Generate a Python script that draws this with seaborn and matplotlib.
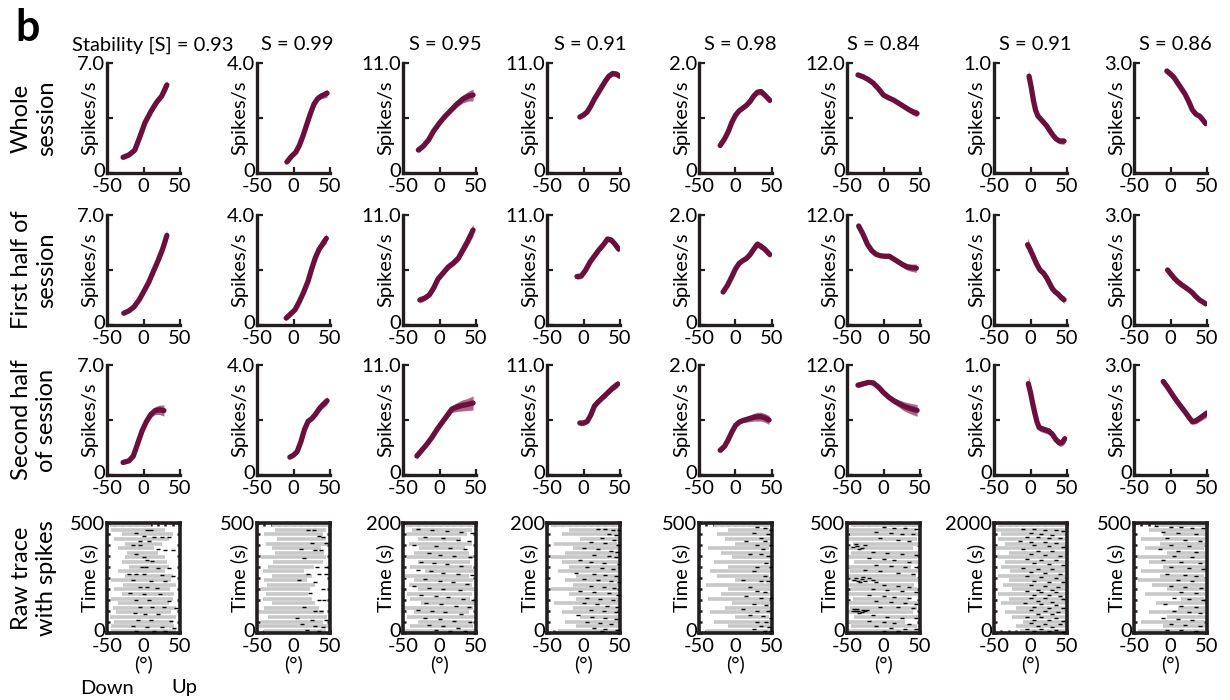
import numpy as np
import matplotlib
matplotlib.use("Agg")
import matplotlib.pyplot as plt
import matplotlib.transforms as mtransforms
import seaborn as sns
from matplotlib.ticker import MultipleLocator

sns.set_theme(style="ticks")
plt.rcParams['font.family'] = ['Lato', 'DejaVu Sans']
plt.rcParams['axes.unicode_minus'] = False

# ---------------- data ----------------
titles = ["Stability [S] = 0.93", "S = 0.99", "S = 0.95", "S = 0.91",
          "S = 0.98", "S = 0.84", "S = 0.91", "S = 0.86"]
row_labels = ["Whole\nsession", "First half of\nsession", "Second half\nof session", "Raw trace\nwith spikes"]
ymax = [7.0, 4.0, 11.0, 11.0, 2.0, 12.0, 1.0, 3.0]
tmax = [500, 500, 200, 200, 500, 500, 2000, 500]

# tuning curves: per column, [whole, first half, second half]
X1 = [[-28, -20, -12, -5, 2, 10, 18, 25, 32],
      [-27, -20, -13, -6, 0, 7, 13, 20, 26, 32],
      [-28, -20, -14, -8, -2, 4, 10, 16, 22, 28]]
Y1 = [[1.0, 1.15, 1.45, 2.3, 3.2, 3.9, 4.5, 4.9, 5.6],
      [0.75, 0.9, 1.15, 1.6, 2.1, 2.7, 3.35, 4.1, 4.8, 5.7],
      [0.8, 0.9, 1.2, 2.0, 2.8, 3.4, 3.85, 4.1, 4.15, 4.1]]
E1 = [[0.15, 0.12, 0.1, 0.1, 0.1, 0.1, 0.12, 0.15, 0.3],
      [0.12, 0.1, 0.1, 0.1, 0.1, 0.1, 0.12, 0.15, 0.2, 0.35],
      [0.12, 0.1, 0.1, 0.1, 0.12, 0.15, 0.2, 0.25, 0.3, 0.35]]

X2 = [[-9, -3, 3, 8, 13, 18, 23, 28, 33, 38, 46],
      [-10, -4, 2, 8, 14, 20, 25, 30, 35, 40, 45],
      [-5, 0, 5, 10, 15, 20, 25, 30, 35, 40, 46]]
Y2 = [[0.4, 0.6, 0.75, 1.0, 1.35, 1.75, 2.15, 2.5, 2.7, 2.8, 2.9],
      [0.25, 0.4, 0.55, 0.85, 1.2, 1.6, 2.05, 2.45, 2.75, 2.95, 3.15],
      [0.65, 0.72, 0.85, 1.2, 1.65, 1.95, 2.05, 2.2, 2.4, 2.55, 2.7]]
E2 = [[0.06, 0.05, 0.05, 0.05, 0.05, 0.05, 0.06, 0.07, 0.08, 0.1, 0.15],
      [0.06, 0.05, 0.05, 0.05, 0.05, 0.06, 0.07, 0.08, 0.1, 0.12, 0.18],
      [0.07, 0.06, 0.06, 0.06, 0.06, 0.06, 0.07, 0.08, 0.1, 0.12, 0.15]]

X3 = [[-29, -22, -15, -8, 0, 8, 16, 24, 32, 40, 46],
      [-27, -20, -14, -8, -2, 5, 12, 19, 26, 32, 38, 46],
      [-31, -24, -17, -10, -3, 4, 11, 17, 24, 31, 38, 46]]
Y3 = [[2.3, 2.7, 3.3, 4.2, 5.0, 5.7, 6.3, 6.9, 7.4, 7.7, 7.8],
      [2.5, 2.7, 3.0, 3.7, 4.6, 5.2, 5.8, 6.2, 6.7, 7.5, 8.3, 9.5],
      [1.9, 2.5, 3.1, 3.8, 4.6, 5.3, 6.0, 6.6, 6.8, 6.95, 7.05, 7.2]]
E3 = [[0.3, 0.25, 0.2, 0.2, 0.2, 0.2, 0.25, 0.3, 0.4, 0.5, 0.6],
      [0.3, 0.25, 0.2, 0.2, 0.2, 0.2, 0.25, 0.3, 0.35, 0.4, 0.5, 0.6],
      [0.3, 0.25, 0.2, 0.2, 0.2, 0.25, 0.3, 0.35, 0.45, 0.55, 0.6, 0.7]]

X4 = [[-5, 0, 5, 10, 15, 20, 25, 30, 35, 40, 45, 49],
      [-9, -3, 3, 9, 15, 21, 27, 33, 38, 43, 48],
      [-5, 0, 5, 10, 15, 20, 25, 30, 35, 40, 47]]
Y4 = [[5.6, 5.8, 6.1, 6.7, 7.4, 8.0, 8.6, 9.2, 9.7, 9.95, 9.9, 9.7],
      [4.85, 4.9, 5.5, 6.3, 6.9, 7.5, 8.0, 8.6, 8.5, 8.1, 7.6],
      [5.2, 5.2, 5.35, 6.0, 6.9, 7.3, 7.65, 8.0, 8.35, 8.7, 9.1]]
E4 = [[0.25, 0.2, 0.2, 0.2, 0.2, 0.2, 0.2, 0.2, 0.2, 0.25, 0.25, 0.3],
      [0.3, 0.25, 0.2, 0.2, 0.2, 0.2, 0.2, 0.25, 0.25, 0.3, 0.35],
      [0.3, 0.25, 0.2, 0.2, 0.2, 0.2, 0.2, 0.25, 0.25, 0.3, 0.35]]

X5 = [[-21, -15, -10, -5, 0, 5, 10, 15, 20, 25, 30, 35, 40, 47],
      [-17, -11, -5, 0, 5, 10, 15, 20, 25, 30, 35, 40, 47],
      [-21, -15, -10, -5, 0, 5, 10, 15, 20, 25, 30, 35, 40, 46]]
Y5 = [[0.5, 0.62, 0.75, 0.92, 1.05, 1.13, 1.18, 1.23, 1.3, 1.4, 1.47, 1.48, 1.42, 1.32],
      [0.6, 0.72, 0.88, 1.02, 1.12, 1.17, 1.21, 1.28, 1.38, 1.47, 1.43, 1.38, 1.28],
      [0.45, 0.52, 0.64, 0.78, 0.9, 0.96, 0.99, 1.01, 1.03, 1.05, 1.06, 1.06, 1.04, 1.0]]
E5 = [[0.04, 0.035, 0.03, 0.03, 0.03, 0.03, 0.03, 0.03, 0.035, 0.04, 0.05, 0.06, 0.05, 0.05],
      [0.05, 0.04, 0.035, 0.03, 0.03, 0.03, 0.035, 0.04, 0.05, 0.06, 0.06, 0.05, 0.05],
      [0.05, 0.04, 0.035, 0.03, 0.03, 0.035, 0.04, 0.05, 0.06, 0.07, 0.08, 0.08, 0.08, 0.08]]

X6 = [[-35, -28, -21, -14, -7, 0, 7, 14, 21, 28, 35, 41, 46],
      [-34, -28, -22, -16, -10, -4, 2, 8, 14, 20, 26, 32, 38, 45],
      [-35, -28, -21, -14, -7, 0, 7, 14, 21, 28, 35, 41, 46]]
Y6 = [[10.7, 10.5, 10.2, 9.8, 9.2, 8.5, 8.2, 7.95, 7.6, 7.25, 6.9, 6.65, 6.5],
      [10.8, 9.9, 8.8, 8.1, 7.7, 7.55, 7.5, 7.5, 7.2, 6.9, 6.6, 6.35, 6.25, 6.2],
      [9.8, 9.95, 10.1, 10.05, 9.6, 9.0, 8.5, 8.1, 7.8, 7.5, 7.3, 7.15, 7.05]]
E6 = [[0.25, 0.2, 0.2, 0.2, 0.2, 0.2, 0.2, 0.2, 0.2, 0.25, 0.3, 0.35, 0.4],
      [0.35, 0.3, 0.25, 0.2, 0.2, 0.2, 0.2, 0.2, 0.25, 0.25, 0.3, 0.35, 0.4, 0.45],
      [0.3, 0.25, 0.2, 0.2, 0.2, 0.25, 0.3, 0.35, 0.4, 0.5, 0.55, 0.6, 0.65]]

X7 = [[-2, 1, 4, 7, 10, 14, 18, 22, 26, 30, 35, 40, 46],
      [-4, 0, 4, 8, 13, 18, 22, 26, 30, 34, 38, 42, 46],
      [-3, 0, 3, 6, 9, 12, 16, 20, 25, 30, 35, 40, 44, 47]]
Y7 = [[0.88, 0.78, 0.66, 0.57, 0.52, 0.49, 0.46, 0.43, 0.39, 0.35, 0.31, 0.29, 0.29],
      [0.73, 0.68, 0.62, 0.56, 0.5, 0.47, 0.43, 0.38, 0.33, 0.3, 0.28, 0.25, 0.23],
      [0.83, 0.75, 0.65, 0.56, 0.48, 0.43, 0.42, 0.41, 0.4, 0.37, 0.32, 0.29, 0.3, 0.33]]
E7 = [[0.06, 0.04, 0.03, 0.025, 0.02, 0.02, 0.02, 0.02, 0.02, 0.02, 0.025, 0.025, 0.03],
      [0.06, 0.045, 0.035, 0.03, 0.025, 0.025, 0.025, 0.025, 0.025, 0.025, 0.03, 0.03, 0.035],
      [0.08, 0.06, 0.04, 0.035, 0.03, 0.03, 0.03, 0.03, 0.03, 0.03, 0.03, 0.03, 0.035, 0.04]]

X8 = [[-5, 0, 5, 10, 15, 20, 25, 30, 35, 40, 45, 48],
      [-4, 0, 5, 10, 15, 20, 25, 30, 35, 40, 45, 48],
      [-10, -5, 0, 5, 10, 15, 20, 25, 30, 35, 40, 45, 49]]
Y8 = [[2.78, 2.7, 2.6, 2.45, 2.3, 2.15, 1.95, 1.72, 1.6, 1.55, 1.43, 1.35],
      [1.5, 1.4, 1.28, 1.18, 1.1, 1.03, 0.96, 0.88, 0.77, 0.68, 0.62, 0.58],
      [2.55, 2.42, 2.27, 2.12, 1.98, 1.85, 1.72, 1.58, 1.45, 1.48, 1.55, 1.62, 1.68]]
E8 = [[0.1, 0.08, 0.07, 0.06, 0.06, 0.06, 0.06, 0.06, 0.06, 0.06, 0.07, 0.08],
      [0.06, 0.05, 0.05, 0.05, 0.05, 0.05, 0.05, 0.05, 0.05, 0.05, 0.06, 0.07],
      [0.1, 0.08, 0.07, 0.06, 0.06, 0.06, 0.06, 0.06, 0.07, 0.08, 0.09, 0.1, 0.12]]

# raw trace envelope (left/right excursion per time sample, bottom -> top)
trace_lo = [
    [-45, -44, -40, -46, -38, -42, -35, -44, -30, -40, -28, -45, -25, -35, -20, -30, -26, -22, -35, -25, -40, -30, -45, -46],
    [-40, -48, -45, -35, -48, -40, -30, -42, -38, -45, -36, -40, -30, -42, -35, -28, -45, -25, -30, -38, -22, -40, -25, -30],
    [-48, -40, -30, -45, -35, -48, -25, -40, -45, -30, -42, -35, -48, -20, -40, -30, -45, -35, -28, -42, -30, -45, -38, -46],
    [-35, -10, -25, -5, -30, -15, -40, -10, -20, -45, -15, -25, -10, -35, -20, -30, -45, -25, -15, -40, -5, -30, -20, -45],
    [-40, -10, -30, 0, -35, -15, -5, -38, -20, -10, -40, 0, -25, -35, -10, -30, -5, -20, -38, 0, -15, -25, -10, -30],
    [-48, -45, -48, -40, -48, -46, -48, -42, -48, -45, -48, -44, -48, -46, -48, -40, -48, -45, -48, -42, -48, -46, -48, -45],
    [-15, -20, -10, -25, -35, -20, -40, -30, -45, -25, -38, -30, -45, -28, -40, -35, -45, -30, -48, -35, -45, -40, -48, -45],
    [-45, -10, -40, -5, -30, 10, -20, 15, -35, -5, -25, -45, -15, -40, -10, -30, -45, -5, -35, -15, -40, -10, -30, -20],
]
trace_hi = [
    [45, 42, 40, 44, 38, 45, 35, 40, 42, 36, 44, 38, 40, 30, 35, 32, 30, 20, 15, 25, 35, 40, 30, 10],
    [45, 48, 40, 46, 42, 35, 30, 25, 20, 22, 30, 18, 25, 15, 28, 40, 45, 42, 38, 46, 44, 40, 45, 48],
    [48, 46, 44, 48, 40, 46, 48, 42, 45, 48, 44, 46, 40, 48, 45, 42, 46, 40, 35, 44, 30, 38, 45, 46],
    [48, 50, 48, 50, 46, 50, 48, 50, 48, 46, 50, 48, 50, 48, 50, 48, 50, 48, 50, 46, 50, 48, 50, 48],
    [48, 50, 48, 46, 50, 48, 50, 46, 48, 50, 48, 50, 46, 48, 50, 48, 50, 48, 46, 50, 48, 50, 48, 50],
    [48, 46, 30, 48, 40, 46, 48, 35, 48, 46, 42, 48, 44, 48, 38, 48, 46, 48, 40, 48, 46, 48, 44, 48],
    [50, 49, 50, 48, 50, 49, 50, 48, 50, 49, 50, 48, 50, 49, 50, 48, 50, 49, 50, 48, 50, 49, 50, 48],
    [48, 50, 46, 50, 48, 50, 48, 46, 50, 48, 50, 48, 46, 50, 48, 50, 48, 50, 46, 48, 50, 48, 50, 48],
]

# spikes: (angle in degrees, time in s)
spikes = [
    [(5, 470), (10, 468), (-10, 455), (0, 440), (15, 438), (25, 437), (35, 436), (-5, 420), (8, 418), (-15, 400),
     (-5, 398), (20, 380), (30, 379), (40, 378), (-10, 360), (0, 345), (5, 330), (12, 328), (-2, 300), (3, 298),
     (20, 296), (35, 295), (-20, 270), (-10, 268), (0, 266), (25, 262), (40, 260), (-15, 240), (10, 238), (30, 236),
     (-5, 210), (5, 208), (18, 206), (-18, 180), (0, 178), (22, 176), (-10, 150), (8, 148), (35, 146), (-5, 120),
     (12, 118), (28, 116), (45, 115), (-12, 90), (2, 88), (20, 86), (-8, 60), (10, 58), (38, 56), (-15, 30),
     (5, 28), (25, 26), (42, 25), (-10, 10), (15, 8), (30, 7)],
    [(20, 470), (28, 466), (35, 440), (40, 438), (25, 410), (45, 408), (10, 380), (30, 378), (38, 376), (15, 340),
     (32, 300), (44, 298), (20, 270), (35, 268), (45, 266), (8, 240), (30, 230), (40, 200), (22, 180), (35, 150),
     (42, 148), (15, 120), (30, 100), (38, 98), (5, 70), (25, 60), (45, 58), (12, 40), (30, 30), (40, 28),
     (18, 12), (35, 10)],
    [(-30, 190), (-10, 188), (10, 186), (30, 184), (45, 182), (-20, 175), (5, 172), (25, 170), (40, 168), (-35, 160),
     (-5, 158), (15, 155), (35, 152), (-15, 145), (0, 142), (20, 140), (42, 138), (-25, 130), (-8, 128), (10, 126),
     (30, 122), (-30, 115), (-12, 112), (5, 110), (25, 108), (45, 106), (-20, 98), (0, 95), (18, 92), (38, 90),
     (-35, 85), (-15, 82), (5, 80), (28, 78), (-25, 70), (-5, 68), (12, 65), (32, 62), (46, 60), (-18, 55),
     (2, 52), (22, 50), (40, 48), (-30, 42), (-10, 40), (8, 38), (30, 35), (-20, 28), (0, 25), (20, 22),
     (42, 20), (-15, 14), (5, 12), (25, 10), (-5, 5), (15, 4), (35, 3)],
    [(20, 190), (30, 189), (40, 188), (48, 187), (35, 180), (45, 178), (25, 172), (42, 170), (10, 165), (30, 163),
     (47, 160), (0, 155), (20, 153), (38, 150), (46, 148), (15, 142), (35, 140), (44, 138), (-5, 132), (10, 130),
     (28, 128), (48, 126), (5, 120), (25, 118), (40, 116), (-10, 110), (15, 108), (30, 106), (45, 104), (0, 98),
     (20, 96), (38, 94), (48, 92), (10, 86), (28, 84), (42, 82), (-5, 76), (15, 74), (35, 72), (47, 70),
     (5, 64), (22, 62), (40, 60), (0, 54), (18, 52), (32, 50), (46, 48), (10, 42), (28, 40), (44, 38),
     (-8, 32), (12, 30), (30, 28), (45, 26), (5, 20), (22, 18), (38, 16), (15, 10), (30, 8), (46, 6), (25, 3)],
    [(30, 480), (40, 478), (48, 470), (25, 455), (45, 450), (35, 430), (15, 420), (40, 418), (30, 400), (48, 398),
     (38, 380), (20, 360), (35, 358), (45, 350), (42, 320), (30, 300), (48, 298), (25, 280), (40, 260), (10, 240),
     (35, 238), (45, 236), (20, 210), (30, 190), (40, 188), (15, 170), (35, 160), (48, 158), (25, 130), (42, 128),
     (10, 110), (30, 100), (45, 98), (20, 80), (38, 78), (48, 70), (30, 50), (42, 48), (35, 30), (46, 28),
     (25, 20), (40, 10), (48, 8)],
    [(-42, 100), (-38, 98), (-35, 102), (-30, 96), (-26, 100), (-22, 104), (-40, 108), (-33, 92), (-28, 106), (-36, 110),
     (-40, 240), (-35, 236), (-30, 244), (-25, 238), (-20, 248), (-38, 252), (-32, 230), (-15, 242), (-28, 256), (-10, 234),
     (-42, 390), (-36, 395), (-30, 388), (-26, 400), (-38, 405), (-33, 380),
     (0, 480), (15, 478), (30, 476), (45, 474), (-10, 460), (10, 455), (25, 450), (40, 448), (-5, 430), (20, 425),
     (35, 420), (-15, 370), (5, 365), (25, 360), (45, 355), (-20, 340), (0, 335), (15, 330), (35, 325), (-10, 310),
     (10, 305), (30, 300), (45, 298), (-25, 285), (-5, 280), (20, 275), (40, 270), (0, 220), (20, 215), (35, 210),
     (-15, 200), (5, 195), (25, 190), (45, 188), (-20, 175), (0, 170), (15, 165), (35, 160), (-10, 145), (10, 140),
     (30, 135), (45, 130), (-5, 120), (20, 118), (40, 115), (-15, 80), (5, 75), (25, 70), (45, 68), (-20, 55),
     (0, 50), (15, 45), (35, 40), (-10, 30), (10, 25), (30, 20), (45, 18), (0, 10), (20, 8)],
    [(-10, 1900), (5, 1890), (20, 1880), (35, 1870), (45, 1860), (0, 1820), (15, 1800), (30, 1790), (-5, 1750), (10, 1740),
     (25, 1730), (40, 1720), (-15, 1680), (0, 1660), (20, 1650), (35, 1640), (5, 1600), (25, 1580), (45, 1570), (-10, 1520),
     (10, 1500), (30, 1490), (0, 1440), (20, 1420), (40, 1400), (-5, 1350), (15, 1330), (35, 1320), (5, 1270), (25, 1250),
     (45, 1240), (-10, 1190), (10, 1170), (30, 1160), (0, 1110), (20, 1090), (40, 1080), (-5, 1030), (15, 1010), (35, 1000),
     (5, 950), (25, 930), (45, 920), (0, 870), (20, 850), (38, 840), (10, 790), (30, 780), (-5, 760), (15, 745),
     (35, 740), (5, 700), (25, 690), (40, 680), (0, 640), (20, 630), (45, 620), (10, 580), (30, 570), (-8, 540),
     (15, 520), (35, 510), (5, 470), (25, 460), (45, 450), (0, 410), (20, 400), (38, 390), (10, 350), (30, 340),
     (-5, 300), (15, 290), (35, 280), (5, 240), (25, 230), (45, 220), (0, 180), (20, 170), (40, 160), (10, 120),
     (30, 110), (-5, 80), (15, 70), (35, 60), (5, 40), (25, 30), (45, 20)],
    [(-20, 485), (0, 482), (15, 480), (30, 478), (45, 476), (-10, 460), (10, 455), (35, 450), (-5, 430), (20, 425),
     (40, 420), (0, 400), (25, 395), (-15, 380), (10, 375), (35, 370), (5, 350), (30, 345), (-10, 330), (15, 325),
     (40, 320), (0, 300), (25, 295), (45, 290), (-5, 270), (20, 265), (35, 260), (10, 240), (30, 235), (0, 215),
     (20, 210), (42, 205), (15, 185), (35, 180), (5, 160), (25, 155), (45, 150), (-8, 130), (15, 125), (35, 120),
     (5, 100), (25, 95), (40, 90), (-10, 70), (10, 65), (30, 60), (0, 40), (20, 35), (40, 30), (-5, 15),
     (15, 12), (35, 10)],
]

X_all = [X1, X2, X3, X4, X5, X6, X7, X8]
Y_all = [Y1, Y2, Y3, Y4, Y5, Y6, Y7, Y8]
E_all = [E1, E2, E3, E4, E5, E6, E7, E8]

# ---------------- style ----------------
LINE = "#6b0f3c"
BAND = "#a8557c"
SPINE = "#231f20"
GRAY = "#c8c8c8"
FS = 14.5

W, H = 1230, 700
fig = plt.figure(figsize=(W / 100, H / 100), dpi=100)

col_left = [107, 257, 403, 547, 699, 847, 994, 1134]
row_top = [63, 215, 365, 523]
AX_W, AX_H = 73, 110
lift = mtransforms.ScaledTranslation(0, 3 / 100, fig.dpi_scale_trans)


def add_ax(c, r):
    return fig.add_axes([col_left[c] / W, 1 - (row_top[r] + AX_H) / H, AX_W / W, AX_H / H])


def lift_zero(ax):
    lab = ax.get_yticklabels()[0]
    lab.set_transform(lab.get_transform() + lift)


for c in range(8):
    ym = ymax[c]
    for r in range(3):
        ax = add_ax(c, r)
        x = np.array(X_all[c][r], float)
        y = np.array(Y_all[c][r], float)
        e = np.array(E_all[c][r], float)
        ax.fill_between(x, y - e, y + e, color=BAND, lw=0, alpha=0.9)
        sns.lineplot(x=x, y=y, ax=ax, color=LINE, lw=3.8, sort=False, estimator=None)
        ax.set_xlim(-50, 50)
        ax.set_ylim(0, ym)
        sns.despine(ax=ax)
        for s in ["left", "bottom"]:
            ax.spines[s].set_linewidth(2.4)
            ax.spines[s].set_color(SPINE)
        ax.set_xticks([-50, 0, 50])
        ax.set_xticklabels(["-50", "0", "50"])
        ax.set_yticks([0, ym / 2, ym])
        ax.set_yticklabels(["0", "", f"{ym:.1f}"])
        ax.tick_params(direction="in", length=4, width=1.6, color=SPINE,
                       labelsize=FS, labelcolor="black")
        ax.tick_params(axis="x", pad=3.5)
        ax.tick_params(axis="y", pad=1.5)
        lift_zero(ax)
        ax.set_xlabel("")
        ax.set_ylabel("Spikes/s", fontsize=FS, color="black")
        ax.yaxis.set_label_coords(-0.12, 0.5)

    # raster panel
    ax = add_ax(c, 3)
    lo = np.array(trace_lo[c], float)
    hi = np.array(trace_hi[c], float)
    n = len(lo)
    tt = (np.arange(n) + 0.5) * tmax[c] / n
    ax.hlines(tt, lo, hi, color=GRAY, lw=2.6, zorder=1)
    sp = np.array(spikes[c], float)
    sns.scatterplot(x=sp[:, 0], y=sp[:, 1], ax=ax, color="black", s=12, marker="_",
                    linewidth=1.0, zorder=3)
    ax.set_xlim(-50, 50)
    ax.set_ylim(0, tmax[c])
    for s in ax.spines.values():
        s.set_visible(True)
        s.set_linewidth(2.6)
        s.set_color(SPINE)
    ax.set_xticks([-50, 0, 50])
    ax.set_xticklabels(["-50", "0", "50"])
    ax.set_yticks([0, tmax[c]])
    ax.set_yticklabels(["0", str(tmax[c])])
    ax.xaxis.set_minor_locator(MultipleLocator(10))
    ax.yaxis.set_minor_locator(MultipleLocator(tmax[c] / 10))
    ax.tick_params(which="both", direction="in", top=True, right=True, length=2.5,
                   width=1.8, color=SPINE)
    ax.tick_params(which="major", labelsize=FS, labelcolor="black")
    ax.tick_params(axis="x", which="major", pad=3.5)
    ax.tick_params(axis="y", which="major", pad=1.5)
    lift_zero(ax)
    ax.set_xlabel("(°)", fontsize=FS, color="black", labelpad=0)
    ax.set_ylabel("Time (s)", fontsize=FS, color="black")
    ax.yaxis.set_label_coords(-0.12, 0.5)

# titles
title_x = [153, 297, 445, 590, 740, 883, 1035, 1175]
for c in range(8):
    fig.text(title_x[c] / W, 1 - 45 / H, titles[c], ha="center", va="center",
             fontsize=FS, color="black")

# row labels
row_cy = [118, 270, 420, 578]
for r in range(4):
    fig.text(34 / W, 1 - row_cy[r] / H, row_labels[r], rotation=90, ha="center",
             va="center", multialignment="center", fontsize=17, linespacing=1.25,
             color="black")

fig.text(15 / W, 1 - 41 / H, "b", fontsize=31, fontweight="bold", ha="left",
         va="baseline", color="black")
fig.text(107 / W, 1 - 688 / H, "Down", fontsize=FS, ha="center", va="center", color="black")
fig.text(184 / W, 1 - 688 / H, "Up", fontsize=FS, ha="center", va="center", color="black")

fig.savefig("out.png", dpi=100)
